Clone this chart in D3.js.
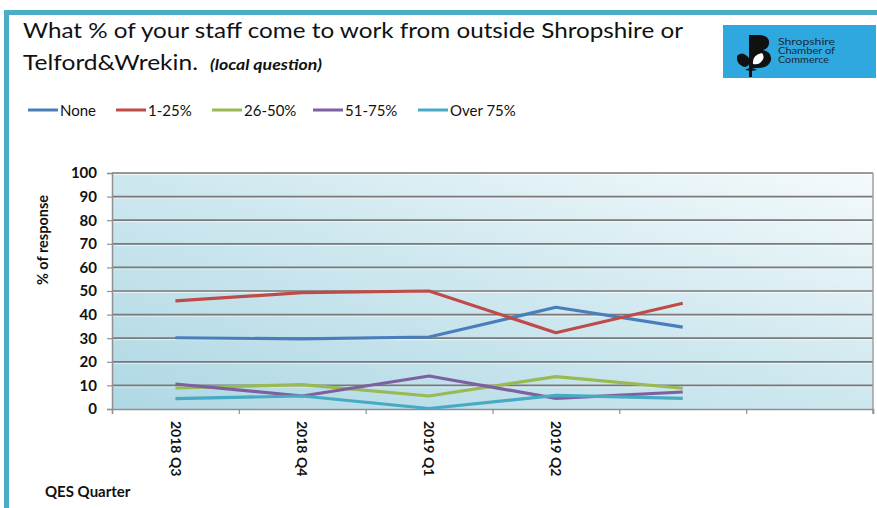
<!DOCTYPE html>
<html><head><meta charset="utf-8">
<script src="https://cdnjs.cloudflare.com/ajax/libs/d3/7.8.5/d3.min.js"></script>
<style>body{margin:0;background:#fff}svg{display:block}</style>
</head><body><svg id="c" width="877" height="508"></svg>
<script>
const categories = ["2018 Q3","2018 Q4","2019 Q1","2019 Q2","",""];
const seriesNames = ["None","1-25%","26-50%","51-75%","Over 75%"];
const seriesColors = ["#4A7EBB","#BE4B48","#98B954","#7D60A0","#46AAC5"];
const noneValues   = [30.2, 29.7, 30.5, 43.1, 34.7];
const low25Values  = [45.8, 49.3, 50.0, 32.3, 44.8];
const mid50Values  = [8.9, 10.3, 5.5, 13.7, 8.8];
const high75Values = [10.6, 5.5, 14.0, 4.5, 7.2];
const over75Values = [4.4, 5.5, 0.2, 5.8, 4.5];
const yTicks = [0,10,20,30,40,50,60,70,80,90,100];
const series = [noneValues, low25Values, mid50Values, high75Values, over75Values];

const svg = d3.select("#c");
const FONT = "Lato, 'Open Sans', sans-serif";

// outer frame
svg.append("rect").attr("x",4).attr("y",10).attr("width",873).attr("height",5).attr("fill","#4BACC6");
svg.append("rect").attr("x",4).attr("y",10).attr("width",5).attr("height",498).attr("fill","#4BACC6");

// title
svg.append("text").attr("x",23).attr("y",38).attr("font-family",FONT).attr("font-size",21)
  .attr("fill","#111").attr("textLength",660).attr("lengthAdjust","spacingAndGlyphs")
  .text("What % of your staff come to work from outside Shropshire or");
svg.append("text").attr("x",23).attr("y",70).attr("font-family",FONT).attr("font-size",21)
  .attr("fill","#111").attr("textLength",175).attr("lengthAdjust","spacingAndGlyphs")
  .text("Telford&Wrekin.");
svg.append("text").attr("x",210).attr("y",70).attr("font-family",FONT).attr("font-size",15)
  .attr("font-weight","bold").attr("font-style","italic").attr("fill","#111")
  .attr("textLength",112).attr("lengthAdjust","spacingAndGlyphs")
  .text("(local question)");

// logo
const logo = svg.append("g");
logo.append("rect").attr("x",723).attr("y",25).attr("width",153).attr("height",53).attr("fill","#2EA8DE");
logo.append("rect").attr("x",749).attr("y",35).attr("width",3).attr("height",42).attr("fill","#111");
logo.append("path").attr("fill","#111")
  .attr("d","M749,35 L760,35 Q770,36 769,44 Q768,49 763,50 Q772,52 771,60 Q769,68 758,68 L749,68 Z");
logo.append("path").attr("fill","#111")
  .attr("d","M749,58 Q742,50 737,56 Q736,64 744,67 Q748,67 749,64 Z");
logo.append("path").attr("fill","#fff")
  .attr("d","M753,64 Q752,55 762,53 Q766,58 760,63 Q757,65 753,64 Z");
logo.append("path").attr("fill","#111").attr("d","M745,70 Q751,66 757,70 L751,71 Z");
const logoLens = [57,57,51];
["Shropshire","Chamber of","Commerce"].forEach((t,i)=>{
  logo.append("text").attr("x",778).attr("y",44.5+i*9.3).attr("font-family",FONT)
    .attr("font-size",9.2).attr("fill","#1a2a3a")
    .attr("textLength",logoLens[i]).attr("lengthAdjust","spacingAndGlyphs").text(t);
});

// legend
const legendX = [28,116,212,313,418];
seriesNames.forEach((n,i)=>{
  const g = svg.append("g");
  g.append("line").attr("x1",legendX[i]).attr("x2",legendX[i]+30).attr("y1",110).attr("y2",110)
    .attr("stroke",seriesColors[i]).attr("stroke-width",3);
  g.append("text").attr("x",legendX[i]+32).attr("y",115.5).attr("font-family",FONT)
    .attr("font-size",15).attr("fill","#111").text(n);
});

// plot
const L=112, R=873, T=173, B=409;
const x = d3.scaleLinear().domain([0,categories.length]).range([L,R]);
const y = d3.scaleLinear().domain([0,100]).range([B,T]);

const defs = svg.append("defs");
const grad = defs.append("linearGradient").attr("id","bg").attr("x1","0").attr("y1","1").attr("x2","1").attr("y2","0");
grad.append("stop").attr("offset","0").attr("stop-color","#AFD8E4");
grad.append("stop").attr("offset","0.55").attr("stop-color","#D1E9F0");
grad.append("stop").attr("offset","1").attr("stop-color","#F4FAFC");
svg.append("rect").attr("x",L).attr("y",T).attr("width",R-L).attr("height",B-T).attr("fill","url(#bg)");

// gridlines
yTicks.forEach(v=>{
  if(v===0) return;
  svg.append("line").attr("x1",L).attr("x2",R).attr("y1",y(v)+1.5).attr("y2",y(v)+1.5)
    .attr("stroke","#ffffff").attr("stroke-opacity",0.6).attr("stroke-width",1);
  svg.append("line").attr("x1",L).attr("x2",R).attr("y1",y(v)).attr("y2",y(v))
    .attr("stroke","#7a7a7a").attr("stroke-width",1.7);
});
svg.append("line").attr("x1",R).attr("x2",R).attr("y1",T).attr("y2",B+5).attr("stroke","#a0a0a0").attr("stroke-width",1.5);

// y axis
const yAxis = svg.append("g").attr("transform",`translate(${L},0)`)
  .call(d3.axisLeft(y).tickValues(yTicks).tickSize(5).tickPadding(10));
yAxis.select(".domain").attr("stroke","#909090").attr("stroke-width",1.5);
yAxis.selectAll(".tick line").attr("stroke","#909090").attr("stroke-width",1.2);
yAxis.selectAll("text").attr("font-family",FONT).attr("font-size",15).attr("font-weight","bold").attr("fill","#111");

// x axis (ticks at boundaries)
const xAxis = svg.append("g").attr("transform",`translate(0,${B})`)
  .call(d3.axisBottom(x).tickValues(d3.range(categories.length+1)).tickSize(5).tickFormat(""));
xAxis.select(".domain").attr("stroke","#909090").attr("stroke-width",1.5);
xAxis.selectAll(".tick line").attr("stroke","#909090").attr("stroke-width",1.2);

categories.forEach((c,i)=>{
  if(!c) return;
  svg.append("text").attr("transform",`translate(${x(i+0.5)},${B+12}) rotate(90)`)
    .attr("dy","0.35em").attr("font-family",FONT).attr("font-size",14).attr("font-weight","bold")
    .attr("fill","#111").text(c);
});

// axis titles
svg.append("text").attr("transform","translate(48,240) rotate(-90)").attr("text-anchor","middle")
  .attr("font-family",FONT).attr("font-size",14.5).attr("font-weight","bold").attr("fill","#111").text("% of response");
svg.append("text").attr("x",45).attr("y",497).attr("font-family",FONT).attr("font-size",15)
  .attr("font-weight","bold").attr("fill","#111").text("QES Quarter");

// lines
const line = d3.line().x((d,i)=>x(i+0.5)).y(d=>y(d));
series.forEach((s,i)=>{
  svg.append("path").datum(s).attr("d",line).attr("fill","none")
    .attr("stroke",seriesColors[i]).attr("stroke-width",3.2).attr("stroke-linejoin","round");
});
</script></body></html>
